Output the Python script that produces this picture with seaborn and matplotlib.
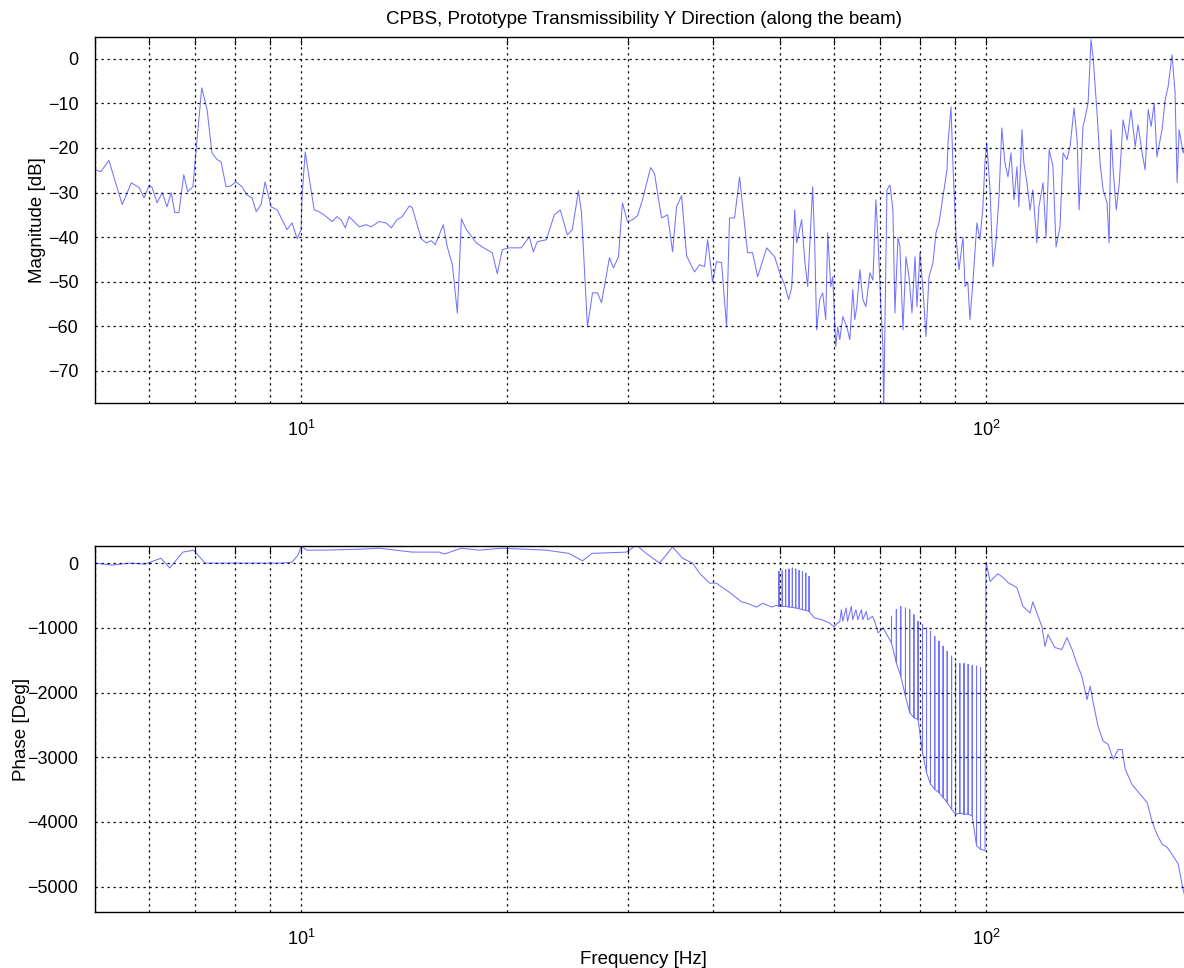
import matplotlib
matplotlib.use("Agg")
import matplotlib.pyplot as plt
import numpy as np
import seaborn as sns
from matplotlib.ticker import LogLocator, NullFormatter, FixedLocator

# ---- magnitude trace (Hz, dB) ----
mag_freq = [
    5.0, 5.1, 5.24, 5.48, 5.65, 5.8, 5.9, 6.0, 6.06, 6.16, 6.27, 6.37, 6.46, 6.54, 6.63,
    6.74, 6.83, 6.95, 7.04, 7.16, 7.29, 7.41, 7.54, 7.64, 7.77, 7.9, 8.03, 8.2, 8.33, 8.48,
    8.6, 8.74, 8.86, 9.04, 9.23, 9.38, 9.54, 9.7, 9.87, 10.0, 10.03, 10.14, 10.27, 10.45,
    10.62, 10.8, 11.1, 11.28, 11.44, 11.6, 11.75, 11.95, 12.16, 12.45, 12.65, 13.0, 13.3,
    13.55, 13.8, 14.05, 14.39, 14.53, 14.98, 15.23, 15.49, 15.7, 16.13, 16.35, 16.63, 16.91,
    17.02, 17.14, 17.43, 18.03, 18.39, 19.02, 19.34, 19.67, 20.14, 20.97, 21.54, 21.83,
    22.13, 22.81, 23.43, 23.9, 24.48, 24.89, 25.41, 25.67, 26.19, 26.64, 27.09, 27.46, 28.2,
    28.58, 29.07, 29.46, 29.96, 30.47, 30.99, 31.52, 32.38, 32.82, 33.6, 34.29, 34.87, 35.34,
    35.94, 36.55, 37.54, 38.18, 38.83, 39.23, 39.89, 40.43, 41.11, 41.81, 42.23, 42.95,
    43.68, 44.87, 45.63, 46.42, 47.84, 49.15, 49.98, 50.83, 51.52, 52.04, 52.22, 52.57,
    52.93, 53.82, 54.37, 54.92, 55.85, 56.23, 56.61, 57.19, 57.77, 58.36, 58.75, 59.35,
    59.75, 60.36, 60.76, 61.18, 61.8, 62.64, 63.28, 63.92, 64.35, 64.79, 65.45, 66.12,
    66.79, 67.7, 68.39, 69.08, 69.55, 70.26, 70.73, 70.9, 71.21, 71.69, 72.42, 73.15, 73.65,
    74.4, 74.9, 75.66, 76.43, 77.21, 77.99, 78.78, 79.31, 80.12, 80.93, 81.75, 82.58, 83.7,
    84.55, 85.41, 86.57, 87.74, 88.04, 88.93, 89.53, 90.44, 91.36, 92.58, 93.21, 94.12,
    94.76, 95.72, 97.02, 98.0, 99.0, 99.66, 100.3, 101.4, 102.4, 103.4, 104.5, 105.5, 106.6,
    107.7, 108.8, 109.9, 111.0, 111.7, 112.9, 113.6, 114.8, 116.0, 117.1, 118.7, 119.5,
    121.2, 122.4, 123.7, 125.3, 126.6, 128.3, 129.6, 131.3, 132.7, 134.5, 135.9, 136.8,
    138.6, 139.6, 141.0, 142.4, 143.4, 145.3, 146.8, 148.3, 150.3, 151.3, 152.3, 153.4,
    155.0, 156.6, 158.6, 160.8, 162.9, 165.2, 166.8, 169.1, 170.8, 172.6, 174.3, 176.1,
    177.7, 180.8, 182.7, 184.5, 187.0, 188.9, 190.2, 191.5, 194.1, 197.0, 200.0,
]
mag_db = [
    -24.9, -25.3, -22.8, -32.7, -27.8, -28.9, -31.2, -28.3, -28.9, -32.3, -30.0, -33.2, -30.0,
    -34.5, -34.5, -26.0, -29.8, -28.7, -18.9, -6.5, -11.4, -21.1, -22.6, -23.1, -28.7, -28.5,
    -27.6, -28.7, -30.5, -31.2, -34.3, -32.7, -27.6, -33.2, -33.9, -36.1, -38.3, -36.8, -40.4,
    -38.3, -30.9, -20.9, -26.5, -33.9, -34.3, -35.0, -36.5, -35.4, -36.1, -37.9, -35.4, -36.5,
    -37.7, -37.2, -37.7, -36.5, -36.8, -37.9, -36.1, -35.4, -33.0, -33.4, -40.4, -41.3, -40.8,
    -41.7, -37.2, -42.2, -46.2, -57.0, -47.3, -35.9, -38.3, -41.3, -42.2, -43.5, -48.2, -42.8,
    -42.4, -42.4, -39.9, -43.3, -41.0, -40.6, -35.0, -33.9, -39.5, -38.3, -29.6, -34.5, -60.1,
    -52.5, -52.5, -54.7, -44.6, -46.9, -44.4, -32.3, -36.5, -36.1, -35.2, -31.6, -24.4, -25.8,
    -35.7, -35.0, -43.3, -33.2, -30.7, -44.2, -47.8, -46.2, -46.6, -40.6, -50.0, -45.5, -45.7,
    -60.1, -35.7, -35.7, -26.5, -43.5, -43.5, -48.9, -42.4, -44.4, -48.0, -50.7, -54.0, -51.3,
    -46.6, -33.9, -41.3, -36.1, -45.1, -51.1, -28.7, -41.3, -60.8, -54.0, -52.5, -58.5, -39.0,
    -51.1, -48.9, -64.6, -60.1, -63.0, -57.8, -60.1, -63.0, -51.8, -58.5, -55.6, -47.3, -54.0,
    -55.6, -48.0, -49.6, -31.6, -40.0, -55.6, -64.6, -80.0, -60.1, -29.4, -28.3, -33.9, -57.0,
    -40.0, -42.2, -60.8, -44.4, -48.9, -57.0, -44.4, -55.6, -43.5, -51.8, -62.3, -48.9, -45.7,
    -39.0, -36.8, -30.9, -24.9, -18.8, -10.8, -24.2, -40.0, -47.3, -40.0, -51.1, -50.2, -58.5,
    -50.2, -36.8, -40.6, -33.2, -23.3, -18.8, -29.4, -46.6, -41.3, -30.9, -15.5, -23.3, -26.5,
    -21.1, -31.6, -24.2, -33.2, -15.9, -23.3, -27.8, -33.9, -29.4, -41.3, -33.2, -27.8, -40.0,
    -20.4, -24.2, -42.2, -37.7, -21.1, -22.6, -19.7, -11.0, -18.2, -33.9, -15.2, -13.2, -9.9,
    4.3, 0.4, -12.1, -23.3, -29.4, -32.3, -41.3, -15.9, -24.9, -33.9, -27.8, -13.7, -18.2,
    -11.4, -19.7, -14.8, -21.1, -24.9, -11.4, -15.2, -9.9, -22.0, -15.9, -9.2, -6.3, 0.9,
    -7.6, -27.8, -15.9, -21.1, -18.0, -20.0,
]

# ---- phase trace (Hz, deg) ----
phase_low_freq = [
    5.0, 5.3, 5.63, 5.92, 6.24, 6.43, 6.72, 6.97, 7.24, 8.0, 9.35, 9.7, 9.9, 10.0, 10.2,
    10.8, 12.2, 13.0, 14.53, 15.92, 16.18, 17.14, 18.2, 19.67, 22.8, 24.6, 25.76, 26.6,
    29.86, 30.89, 31.9, 33.38, 34.87, 36.06, 37.3, 38.2, 39.5, 40.4, 42.2, 44.0, 44.8,
    46.26, 47.2, 48.66, 49.5,
]
phase_low_deg = [
    0, -30, 0, -15, 75, -75, 170, 200, 0, 0, 0, 15, 125, 260, 200,
    200, 215, 230, 170, 170, 140, 230, 200, 230, 200, 150, 35, 150,
    170, 280, 150, 0, 250, 75, 0, -160, -310, -310, -450, -600, -620,
    -680, -620, -680, -650,
]
# first wrapped band (about 50-55 Hz): lower trace and spike tops
osc1_freq = [49.87, 50.42, 51.0, 51.58, 52.16, 52.76, 53.36, 53.96, 54.57, 55.18]
osc1_lo = [-669, -669, -669, -678, -684, -693, -704, -720, -730, -746]
osc1_hi = [-129, -119, -103, -92, -77, -92, -114, -129, -154, -206]

phase_mid_freq = [
    56.2, 57.6, 59.1, 60.0, 60.4, 61.2, 61.5, 61.8, 62.5, 62.8, 63.6, 63.9, 64.6, 65.0,
    65.8, 66.1, 66.9, 67.2, 68.3, 68.8, 69.6, 70.8,
]
phase_mid_deg = [
    -848, -874, -925, -986, -950, -900, -720, -900, -694, -900, -668, -874, -720, -874,
    -720, -874, -746, -874, -823, -900, -1079, -1002,
]
# second wrapped band (about 72-100 Hz)
osc2_freq = [
    72.8, 74.0, 75.1, 76.3, 77.4, 78.5, 79.6, 80.8, 81.9, 83.0, 84.2, 85.4, 86.6, 87.8,
    89.1, 90.3, 91.6, 92.9, 94.2, 95.5, 96.9, 98.2, 99.7,
]
osc2_lo = [
    -1233, -1541, -1747, -2056, -2312, -2389, -2415, -2928, -3236, -3416, -3493, -3545,
    -3622, -3699, -3802, -3879, -3863, -3879, -3879, -3905, -4367, -4418, -4444,
]
osc2_hi = [
    -823, -720, -669, -694, -720, -797, -900, -951, -1002, -1054, -1131, -1208, -1285,
    -1362, -1439, -1541, -1552, -1552, -1567, -1582, -1592, -1618, -4444,
]

phase_high_freq = [
    100.0, 100.3, 101.4, 104.1, 105.9, 107.7, 111.0, 113.3, 116.0, 117.1, 120.7, 122.0,
    123.2, 126.1, 129.1, 131.3, 133.6, 135.9, 138.1, 140.5, 142.0, 143.4, 145.8, 148.3,
    150.8, 153.4, 156.0, 158.1, 159.7, 163.4, 167.9, 172.0, 174.8, 177.7, 180.8, 183.9,
    187.0, 190.9, 193.6, 194.9, 197.0, 200.0,
]
phase_high_deg = [
    0, -30, -285, -165, -220, -300, -380, -670, -770, -600, -980, -1290, -1105, -1305,
    -1335, -1150, -1335, -1565, -1750, -2110, -1900, -2150, -2520, -2750, -2800, -3030,
    -2880, -2880, -3180, -3420, -3570, -3700, -3990, -4190, -4340, -4390, -4500, -4650,
    -4990, -5120, -5250, -5380,
]

mag_ticks = [-70, -60, -50, -40, -30, -20, -10, 0]
phase_ticks = [-5000, -4000, -3000, -2000, -1000, 0]


def spikes(freq, lo, hi):
    fx, y = [], []
    for f, a, b in zip(freq, lo, hi):
        fx += [f, f, f]
        y += [a, b, a]
    return fx, y


s1f, s1y = spikes(osc1_freq, osc1_lo, osc1_hi)
s2f, s2y = spikes(osc2_freq, osc2_lo, osc2_hi)
phase_freq = phase_low_freq + s1f + phase_mid_freq + s2f + phase_high_freq
phase_deg = phase_low_deg + s1y + phase_mid_deg + s2y + phase_high_deg

sns.set_theme(style="white")
plt.rcParams["font.family"] = ["Liberation Sans", "DejaVu Sans"]
plt.rcParams["mathtext.fontset"] = "custom"
plt.rcParams["mathtext.rm"] = "Liberation Sans"
plt.rcParams["mathtext.it"] = "Liberation Sans"
plt.rcParams["text.color"] = "black"
plt.rcParams["axes.labelcolor"] = "black"
plt.rcParams["xtick.color"] = "black"
plt.rcParams["ytick.color"] = "black"

fig = plt.figure(figsize=(11.84, 9.68), dpi=100)
ax1 = fig.add_axes([0.0802, 0.5837, 0.9266, 0.3781])
ax2 = fig.add_axes([0.0802, 0.0579, 0.9266, 0.3781])

line_kw = dict(color=(0.0, 0.0, 1.0), lw=0.75, alpha=0.55, sort=False, estimator=None)
sns.lineplot(x=mag_freq, y=mag_db, ax=ax1, **line_kw)
sns.lineplot(x=phase_freq, y=phase_deg, ax=ax2, **line_kw)

for ax, yt in ((ax1, mag_ticks), (ax2, phase_ticks)):
    ax.set_xscale("log")
    ax.set_xlim(5, 200)
    ax.xaxis.set_major_locator(LogLocator(base=10))
    ax.xaxis.set_minor_locator(LogLocator(base=10, subs=np.arange(2, 10)))
    ax.xaxis.set_minor_formatter(NullFormatter())
    ax.yaxis.set_major_locator(FixedLocator(yt))
    ax.grid(True, which="major", axis="both", color="black", lw=0.9, linestyle=(0, (1.8, 3)))
    ax.grid(True, which="minor", axis="x", color="black", lw=0.9, linestyle=(0, (1.8, 3)))
    ax.tick_params(which="both", direction="in", top=True, right=True, length=6,
                   width=0.8, color="black", labelcolor="black", labelsize=13, pad=12)
    for sp in ax.spines.values():
        sp.set_color("black")
        sp.set_linewidth(1.0)

ax1.set_ylim(-77.2, 4.9)
ax2.set_ylim(-5390, 265)

ax1.set_title("CPBS, Prototype Transmissibility Y Direction (along the beam)",
              fontsize=13.5, pad=9, color="black")
ax1.set_ylabel("Magnitude [dB]", fontsize=13.5)
ax2.set_ylabel("Phase [Deg]", fontsize=13.5)
ax2.set_xlabel("Frequency [Hz]", fontsize=13.5)
ax1.set_xlabel("")
ax1.yaxis.set_label_coords(-0.045, 0.5)
ax2.yaxis.set_label_coords(-0.059, 0.5)
ax2.xaxis.set_label_coords(0.5, -0.108)

fig.savefig("out.png", dpi=100)
